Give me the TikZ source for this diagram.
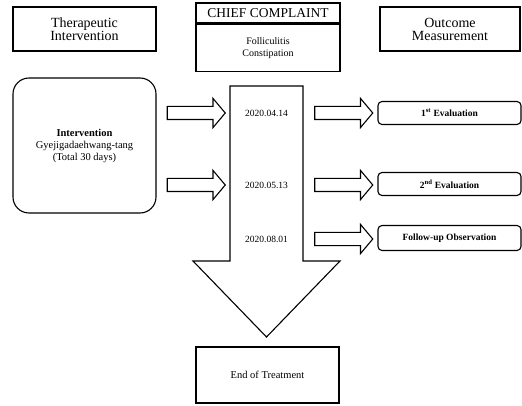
\documentclass[tikz,border=0pt]{standalone}
\usepackage{fontspec}
\setmainfont{Liberation Serif}
\usepackage{tikz}
\usetikzlibrary{positioning, shapes.arrows, arrows.meta}

\begin{document}
\begin{tikzpicture}[x=1pt, y=-1pt, line width=1.1pt,
        headbox/.style = {draw, rectangle, minimum width=143pt, minimum height=44pt, align=center, font=\fontsize{14}{15}\selectfont},
        evalbox/.style = {draw, rectangle, rounded corners=4pt, minimum width=143pt, minimum height=23pt, font=\fontsize{9.5}{10}\selectfont\bfseries},
        blockarrow/.style = {draw, single arrow, minimum height=58pt, single arrow head extend=8pt, single arrow tip angle=100, inner xsep=0pt, inner ysep=6pt},
        datelabel/.style = {font=\fontsize{9.5}{10}\selectfont}]
            \useasboundingbox (0,0) rectangle (522,406);
            \node (TI) [headbox] at (84.5,29) {Therapeutic\\[-2pt]Intervention};
            \node (CCt) [draw, minimum width=144pt, minimum height=20pt, inner sep=0pt, font=\fontsize{13.5}{14}\selectfont] at (268,13) {CHIEF COMPLAINT};
            \node (CCb) [draw, minimum width=144pt, minimum height=47pt, align=center, font=\fontsize{10}{12}\selectfont, below = 0pt of CCt] {Folliculitis\\Constipation};
            \node (OM) [headbox, minimum width=140pt] at (450,29) {Outcome\\[-2pt]Measurement};
            \node (IV) [draw, rounded corners=16pt, minimum width=143pt, minimum height=135pt, align=center, font=\fontsize{10.5}{12}\selectfont] at (84.5,145.5) {\textbf{Intervention}\\Gyejigadaehwang-tang\\(Total 30 days)};
            \draw (230,86) -- (303,86) -- (303,261) -- (340,261) -- (266.5,337) -- (193,261) -- (230,261) -- cycle;
            \node (D1) [datelabel] at (266.5,113) {2020.04.14};
            \node (D2) [datelabel] at (266.5,185) {2020.05.13};
            \node (D3) [datelabel] at (266.5,239) {2020.08.01};
            \node (LA1) [blockarrow] at (193.5,113) {};
            \node (LA2) [blockarrow] at (193.5,185) {};
            \node (RA1) [blockarrow] at (341,113) {};
            \node (RA2) [blockarrow] at (341,185) {};
            \node (RA3) [blockarrow] at (341,239) {};
            \node (E1) [evalbox] at (449.5,113) {1\textsuperscript{st} Evaluation};
            \node (E2) [evalbox] at (449.5,184) {2\textsuperscript{nd} Evaluation};
            \node (E3) [evalbox, minimum height=25pt] at (449.5,238) {Follow-up Observation};
            \node (ET) [draw, minimum width=143pt, minimum height=56pt, font=\fontsize{10.5}{12}\selectfont] at (267.5,375) {End of Treatment};
        \end{tikzpicture}
\end{document}
